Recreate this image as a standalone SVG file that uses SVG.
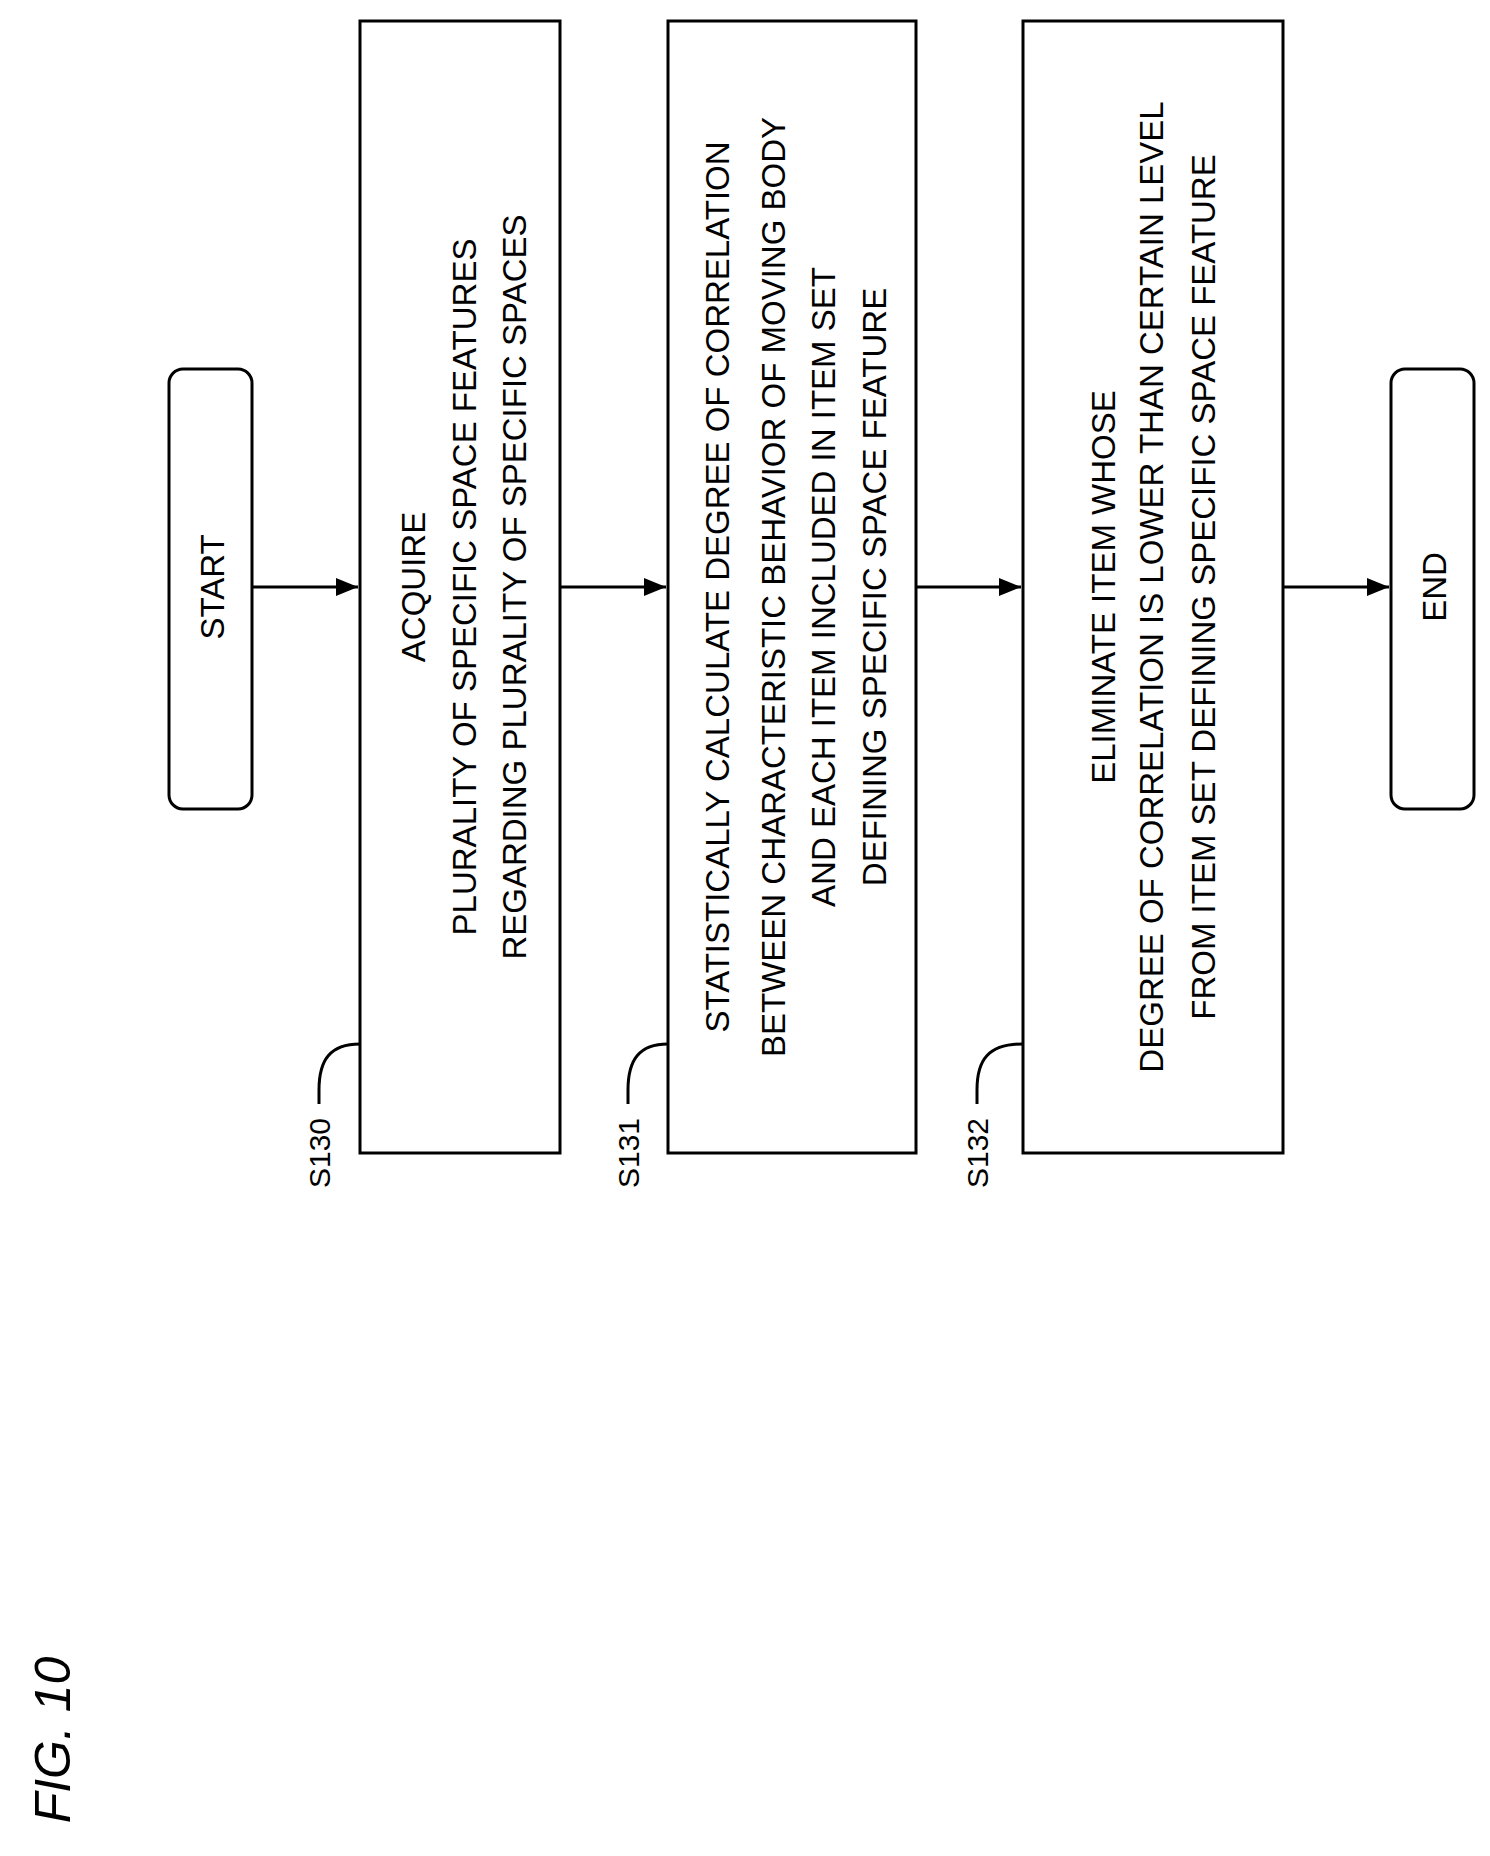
<svg xmlns="http://www.w3.org/2000/svg" width="1490" height="1856" viewBox="0 0 1490 1856">
<style>
.b{fill:#fff;stroke:#000;stroke-width:3}
.t{font-family:"Liberation Sans",Arial,sans-serif;font-size:33px;text-anchor:middle;fill:#000}
.l{font-family:"Liberation Sans",Arial,sans-serif;font-size:30px;text-anchor:middle;fill:#000}
.c{fill:none;stroke:#000;stroke-width:3}
</style>
<defs><marker id="a" markerWidth="10" markerHeight="10" refX="9" refY="5" orient="auto" markerUnits="userSpaceOnUse" viewBox="0 0 10 10"><path d="M0,0L10,5L0,10z" fill="#000"/></marker>
<marker id="ah" markerWidth="22" markerHeight="18" refX="22" refY="9" orient="auto" markerUnits="userSpaceOnUse"><path d="M0,0L22,9L0,18z" fill="#000"/></marker></defs>
<g id="start"><rect class="b" x="169" y="369" width="83" height="440" rx="14"/><text class="t" transform="translate(224,587) rotate(-90)">START</text></g>
<g id="s130"><rect class="b" x="360" y="21" width="200" height="1132"/>
<g class="t" transform="translate(0,0)"><text class="t" transform="translate(425,587) rotate(-90)">ACQUIRE</text><text class="t" transform="translate(476,587) rotate(-90)">PLURALITY OF SPECIFIC SPACE FEATURES</text><text class="t" transform="translate(526,587) rotate(-90)">REGARDING PLURALITY OF SPECIFIC SPACES</text></g></g>
<g id="s131"><rect class="b" x="668" y="21" width="248" height="1132"/>
<text class="t" transform="translate(729,587) rotate(-90)">STATISTICALLY CALCULATE DEGREE OF CORRELATION</text><text class="t" transform="translate(785,587) rotate(-90)">BETWEEN CHARACTERISTIC BEHAVIOR OF MOVING BODY</text><text class="t" transform="translate(835,587) rotate(-90)">AND EACH ITEM INCLUDED IN ITEM SET</text><text class="t" transform="translate(886,587) rotate(-90)">DEFINING SPECIFIC SPACE FEATURE</text></g>
<g id="s132"><rect class="b" x="1023" y="21" width="260" height="1132"/>
<text class="t" transform="translate(1115,587) rotate(-90)">ELIMINATE ITEM WHOSE</text><text class="t" transform="translate(1163,587) rotate(-90)">DEGREE OF CORRELATION IS LOWER THAN CERTAIN LEVEL</text><text class="t" transform="translate(1215,587) rotate(-90)">FROM ITEM SET DEFINING SPECIFIC SPACE FEATURE</text></g>
<g id="end"><rect class="b" x="1391" y="369" width="83" height="440" rx="14"/><text class="t" transform="translate(1446,587) rotate(-90)">END</text></g>
<g id="labels">
<text class="l" transform="translate(330,1153) rotate(-90)">S130</text>
<text class="l" transform="translate(639,1153) rotate(-90)">S131</text>
<text class="l" transform="translate(988,1153) rotate(-90)">S132</text>
<text transform="translate(70,1740) rotate(-90)" style="font-family:'Liberation Sans',Arial,sans-serif;font-size:50px;font-style:italic;text-anchor:middle">FIG. 10</text>
</g>
<g id="connectors">
<path class="c" d="M252,587H358" marker-end="url(#ah)"/>
<path class="c" d="M560,587H666" marker-end="url(#ah)"/>
<path class="c" d="M916,587H1021" marker-end="url(#ah)"/>
<path class="c" d="M1283,587H1389" marker-end="url(#ah)"/>
<path class="c" d="M319,1104V1090C319,1060 330,1044 360,1044"/>
<path class="c" d="M628,1104V1090C628,1060 639,1044 668,1044"/>
<path class="c" d="M977,1104V1090C977,1060 988,1044 1023,1044"/>
</g>
</svg>
